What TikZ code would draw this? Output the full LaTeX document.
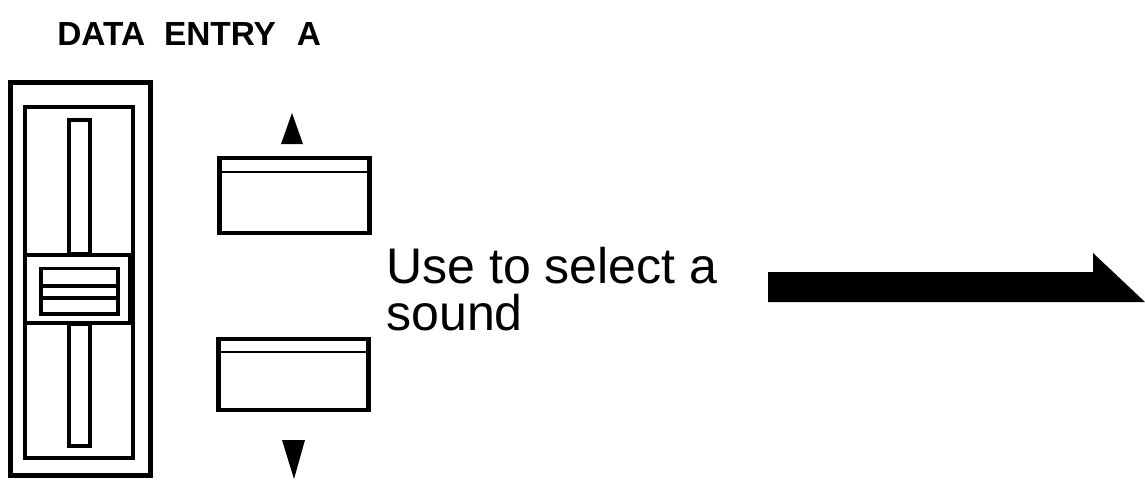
\documentclass[tikz,border=0pt]{standalone}
\usepackage{fontspec}
\setmainfont{Liberation Sans}
\usepackage{tikz}
\usetikzlibrary{calc}

\begin{document}
\begin{tikzpicture}[
  x=0.02cm, y=-0.02cm,
  keybox/.style={rectangle, draw, line width=2.3pt, fill=white, minimum width=3cm, inner sep=0pt, outer sep=0pt},
  heavy/.style={line width=2.8pt},
  medium/.style={line width=2.2pt},
  light/.style={line width=1.4pt},
  title/.style={anchor=base west, inner sep=0pt, font=\fontsize{19}{19}\selectfont\bfseries},
  hint/.style={anchor=base west, inner sep=0pt, align=left, font=\fontsize{28.5}{26.6}\selectfont},
]
  \useasboundingbox (0,0) rectangle (1145,481);

  % Heading
  \node[title] (heading) at (57,45) {DATA\hspace{0.38cm}ENTRY\hspace{0.42cm}A};

  % Slider housing
  \draw[heavy] (10.5,82.5) rectangle (150.5,475.5);
  \draw[medium] (25,107) rectangle (133,458);
  \draw[medium] (69,120) rectangle (90,254);
  \draw[medium] (69,324) rectangle (90,446);

  % Slider knob
  \draw[medium, fill=white] (25,255) rectangle (130,323);
  \draw[medium] (41,268.5) rectangle (118,314);
  \draw[heavy] (41,286) -- (118,286);
  \draw[heavy] (41,298) -- (118,298);

  % Up / down keys
  \node[keybox, minimum height=1.5cm] (upkey) at (294.5,195.5) {};
  \node[keybox, minimum height=1.42cm] (downkey) at (293.5,374.5) {};
  \draw[light] ($(upkey.north west)+(0,14)$) -- ($(upkey.north east)+(0,14)$);
  \draw[light] ($(downkey.north west)+(0,13)$) -- ($(downkey.north east)+(0,13)$);

  % Direction marks
  \fill (292,113) -- (303,144) -- (281,144) -- cycle;
  \fill (282,440) -- (305,440) -- (294,479) -- cycle;

  % Label (base = last line)
  \node[hint] (usage) at (386,330) {Use to select a\\sound};

  % Pointer
  \coordinate (tail) at (768,302);
  \coordinate (tip) at (1145,302);
  \fill (tail) -- ++(0,-30) -- (1093,272) -- (1093,253) -- (tip) -- cycle;
\end{tikzpicture}
\end{document}
